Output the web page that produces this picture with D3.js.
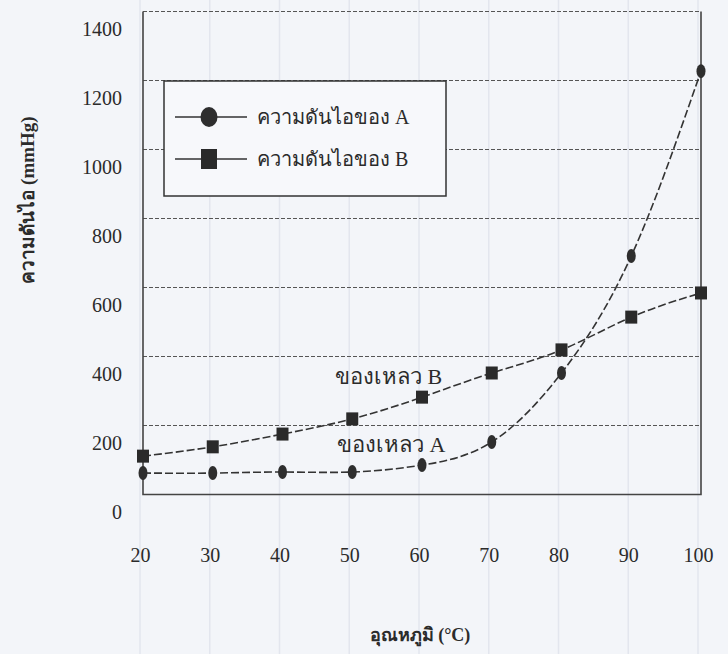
<!DOCTYPE html>
<meta charset="utf-8">
<style>
body { margin: 0; background: #f3f5f9; }
svg { display: block; }
text { font-family: "Liberation Serif", "DejaVu Serif", serif; fill: #2b2b2b; }
.tick text { font-size: 20px; }
.grid line { stroke: #555; stroke-width: 1.2; stroke-dasharray: 4,2; }
.paper line { stroke: #e3e6ee; stroke-width: 1.5; }
.frame { fill: none; stroke: #444; stroke-width: 1.6; }
.line { fill: none; stroke: #333; stroke-width: 1.6; stroke-dasharray: 8,3; }
</style>
<body>
<script src="https://d3js.org/d3.v7.min.js"></script>
<script>

// temperatures (°C)
var temps = [20, 30, 40, 50, 60, 70, 80, 90, 100];
// vapour pressure (mmHg)
var pressA = [110, 110, 113, 113, 133, 200, 400, 739, 1275];
var pressB = [159, 186, 223, 267, 330, 400, 467, 562, 632];
var yTicks = [0, 200, 400, 600, 800, 1000, 1200, 1400];
var seriesNames = ["ความดันไอของ A", "ความดันไอของ B"];
var curveLabels = ["ของเหลว A", "ของเหลว B"];

var width = 728, height = 654;

var x = d3.scaleLinear().domain([20, 100]).range([143, 701]);
var y = d3.scaleLinear().domain([0, 1400]).range([511, 28]);

var svg = d3.select("body").append("svg")
    .attr("width", width)
    .attr("height", height);

// faint vertical lines of the scanned paper
svg.append("g")
    .attr("class", "paper")
  .selectAll("line")
    .data(temps)
  .enter().append("line")
    .attr("x1", function(d) { return x(d) - 3; })
    .attr("x2", function(d) { return x(d) - 3; })
    .attr("y1", 0).attr("y2", height);

// the printed frame sits a little above the tick labels (scan offset)
var frame = svg.append("g").attr("transform", "translate(0,-16.5)");

frame.append("g")
    .attr("class", "grid")
  .selectAll("line")
    .data(yTicks.slice(1))
  .enter().append("line")
    .attr("x1", x(20)).attr("x2", x(100))
    .attr("y1", function(d) { return y(d); })
    .attr("y2", function(d) { return y(d); });

frame.append("path")
    .attr("class", "frame")
    .attr("d", "M" + x(20) + "," + y(1400) + "V" + y(0) + "H" + x(100) + "V" + y(1400));

// y axis labels
var yAxis = svg.append("g")
    .attr("transform", "translate(122,0)")
    .call(d3.axisLeft(y).tickValues(yTicks).tickFormat(d3.format("d")).tickSize(0).tickPadding(0));
yAxis.select(".domain").remove();
yAxis.selectAll(".tick text").attr("dy", "0.35em");

// x axis labels
var xAxis = svg.append("g")
    .attr("transform", "translate(-3,555)")
    .call(d3.axisBottom(x).tickValues(temps).tickFormat(d3.format("d")).tickSize(0).tickPadding(0));
xAxis.select(".domain").remove();
xAxis.selectAll(".tick text").attr("dy", "0.35em");

// axis titles
svg.append("text")
    .attr("transform", "translate(34,200) rotate(-90)")
    .attr("text-anchor", "middle")
    .style("font-size", "19px")
    .style("font-weight", "bold")
    .text("ความดันไอ (mmHg)");

svg.append("text")
    .attr("x", 420).attr("y", 641)
    .attr("text-anchor", "middle")
    .style("font-size", "18px")
    .style("font-weight", "bold")
    .text("อุณหภูมิ (°C)");

var line = d3.line()
    .x(function(d) { return x(d[0]); })
    .y(function(d) { return y(d[1]); })
    .curve(d3.curveNatural);

var dataA = d3.zip(temps, pressA);
var dataB = d3.zip(temps, pressB);

svg.append("path").datum(dataA).attr("class", "line").attr("d", line);
svg.append("path").datum(dataB).attr("class", "line").attr("d", line);

svg.append("g").selectAll("ellipse")
    .data(dataA)
  .enter().append("ellipse")
    .attr("cx", function(d) { return x(d[0]); })
    .attr("cy", function(d) { return y(d[1]); })
    .attr("rx", 4.5).attr("ry", 7)
    .attr("fill", "#2e2e2e");

svg.append("g").selectAll("rect")
    .data(dataB)
  .enter().append("rect")
    .attr("x", function(d) { return x(d[0]) - 6; })
    .attr("y", function(d) { return y(d[1]) - 6.5; })
    .attr("width", 12).attr("height", 13)
    .attr("fill", "#2a2a2a");

// curve labels
svg.append("text").attr("x", 337).attr("y", 452)
    .style("font-size", "22px").text(curveLabels[0]);
svg.append("text").attr("x", 335).attr("y", 384)
    .style("font-size", "22px").text(curveLabels[1]);

// legend
var legend = svg.append("g");
legend.append("rect")
    .attr("x", 164).attr("y", 81)
    .attr("width", 282).attr("height", 115)
    .attr("fill", "#f7f8fb").attr("stroke", "#333").attr("stroke-width", 1.5);

var rows = legend.selectAll(".row")
    .data(seriesNames)
  .enter().append("g")
    .attr("class", "row")
    .attr("transform", function(d, i) { return "translate(0," + (117 + i * 42) + ")"; });

rows.append("line")
    .attr("x1", 175).attr("x2", 247)
    .attr("stroke", "#333").attr("stroke-width", 1.5);

rows.filter(function(d, i) { return i === 0; })
  .append("ellipse")
    .attr("cx", 209).attr("rx", 8.5).attr("ry", 10)
    .attr("fill", "#2e2e2e");

rows.filter(function(d, i) { return i === 1; })
  .append("rect")
    .attr("x", 201).attr("y", -10).attr("width", 16).attr("height", 20)
    .attr("fill", "#2a2a2a");

rows.append("text")
    .attr("x", 257).attr("dy", "0.35em")
    .style("font-size", "20px")
    .text(function(d) { return d; });

</script>
</body>
